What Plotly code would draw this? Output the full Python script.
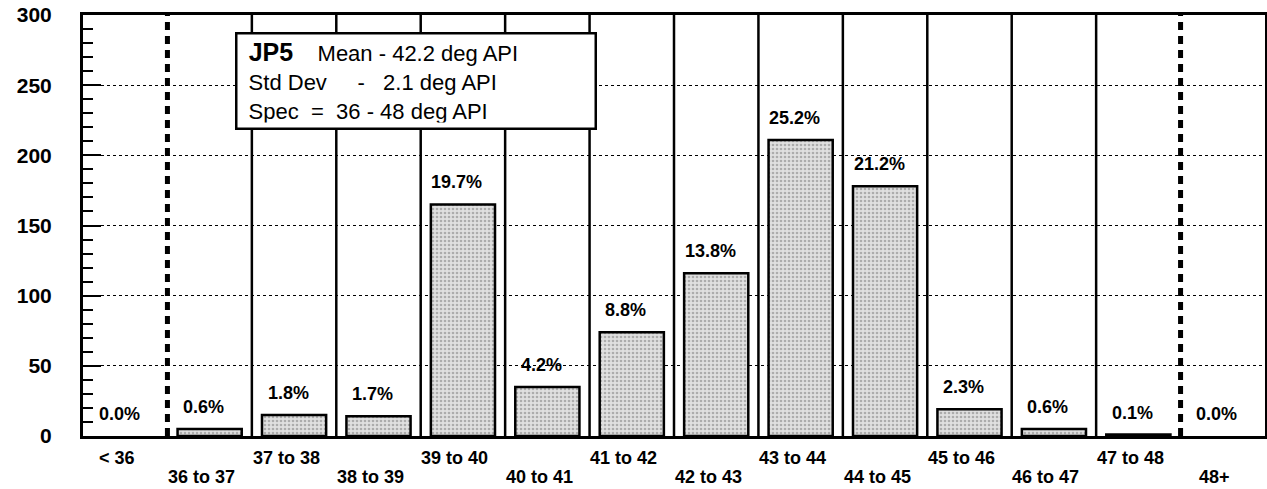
import plotly.graph_objects as go

categories = ["< 36", "36 to 37", "37 to 38", "38 to 39", "39 to 40", "40 to 41", "41 to 42",
              "42 to 43", "43 to 44", "44 to 45", "45 to 46", "46 to 47", "47 to 48", "48+"]
counts = [0, 5, 15, 14, 165, 35, 74, 116, 211, 178, 19, 5, 1, 0]
pct_labels = ["0.0%", "0.6%", "1.8%", "1.7%", "19.7%", "4.2%", "8.8%", "13.8%", "25.2%",
              "21.2%", "2.3%", "0.6%", "0.1%", "0.0%"]
y_ticks = [0, 50, 100, 150, 200, 250, 300]
spec_bounds = [0.5, 12.5]  # boundaries between "<36"/"36 to 37" and "47 to 48"/"48+"

FONT = "Liberation Sans, Arial, sans-serif"
n = len(categories)
xs = list(range(n))

fig = go.Figure()
fig.add_trace(go.Bar(
    x=xs, y=counts, width=0.76,
    marker=dict(color="#d8d8d8",
                pattern=dict(shape=".", fgcolor="#777777", bgcolor="#e0e0e0", size=4, solidity=0.35),
                line=dict(color="black", width=[2.5 if v > 0 else 0 for v in counts])),
    hoverinfo="skip", showlegend=False,
))

annotations = []
for i, (v, t) in enumerate(zip(counts, pct_labels)):
    annotations.append(dict(x=i, y=v, xref="x", yref="y", text="<b>%s</b>" % t, showarrow=False,
                            xanchor="center", yanchor="middle", yshift=22, xshift=-6,
                            font=dict(family=FONT, size=18, color="black")))
for i, c in enumerate(categories):
    annotations.append(dict(x=i, y=0, xref="x", yref="y", text="<b>%s</b>" % c, showarrow=False,
                            xanchor="center", yanchor="middle",
                            yshift=-22 if i % 2 == 0 else -41, xshift=-8,
                            font=dict(family=FONT, size=18, color="black")))

sp = "\u00a0"
box_text = (sp + "<span style='font-size:25px'><b>JP5</b></span>" + sp * 4 + "Mean - 42.2 deg API<br>"
            + sp + "Std Dev" + sp * 5 + "-" + sp * 3 + "2.1 deg API<br>"
            + sp + "Spec" + sp * 2 + "=" + sp * 2 + "36 - 48 deg API")
annotations.append(dict(x=(235 - 83) / 1182, y=(436 - 32) / 421, xref="paper", yref="paper",
                        text=box_text, showarrow=False,
                        xanchor="left", yanchor="top", align="left", valign="middle",
                        width=347, height=83, borderpad=5,
                        bordercolor="black", borderwidth=2.5, bgcolor="white",
                        font=dict(family=FONT, size=22, color="black")))

shapes = []
for k in range(n - 1):
    b = k + 0.5
    if b in spec_bounds:
        shapes.append(dict(type="line", xref="x", yref="y", x0=b, x1=b, y0=0, y1=y_ticks[-1],
                           line=dict(color="black", width=5, dash="8px,6px"), layer="above"))
    else:
        shapes.append(dict(type="line", xref="x", yref="y", x0=b, x1=b, y0=0, y1=y_ticks[-1],
                           line=dict(color="black", width=2.5), layer="below"))

fig.update_layout(
    width=1267, height=489,
    margin=dict(l=83, r=2, t=15, b=53),
    paper_bgcolor="white", plot_bgcolor="white",
    bargap=0.24,
    annotations=annotations, shapes=shapes,
    font=dict(family=FONT, color="black"),
)
fig.update_xaxes(range=[-0.5, n - 0.5], showticklabels=False, ticks="", showgrid=False,
                 showline=True, linecolor="black", linewidth=3, mirror=True, zeroline=False)
fig.update_yaxes(range=[0, y_ticks[-1]], tickvals=y_ticks, ticktext=["<b>%d</b>" % v for v in y_ticks],
                 tickfont=dict(family=FONT, size=21, color="black"),
                 ticks="inside", ticklen=18, tickwidth=2, tickcolor="black", ticklabelstandoff=24,
                 showgrid=True, gridcolor="black", griddash="dot", gridwidth=1.2,
                 minor=dict(dtick=10, ticks="inside", ticklen=10, tickwidth=2, tickcolor="black", showgrid=False),
                 showline=True, linecolor="black", linewidth=3, mirror=True, zeroline=False,
                 automargin=False)

fig.write_html("out.html", config={"displayModeBar": False},
               post_script="document.body.style.margin='0';document.body.style.overflow='hidden';")
